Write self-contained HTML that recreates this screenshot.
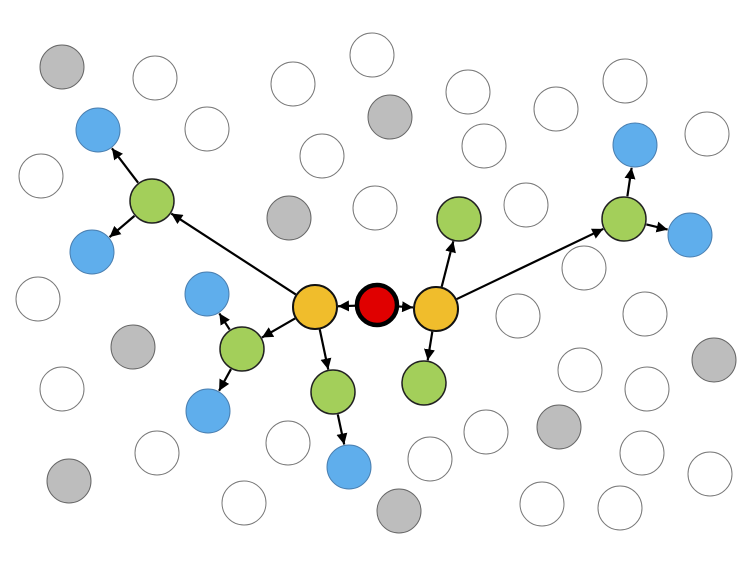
<!DOCTYPE html>
<html><head><meta charset="utf-8"><style>html,body{margin:0;padding:0;background:#fff}svg{display:block}</style></head>
<body>
<svg id="s" width="754" height="563" viewBox="0 0 754 563" xmlns="http://www.w3.org/2000/svg">
<defs><marker id="a" viewBox="0 0 10 10" refX="10" refY="5" markerWidth="5" markerHeight="5" orient="auto"><path d="M0,0L10,5L0,10z" fill="#000"/></marker></defs>
<g id="e" stroke="#000" stroke-width="2.2" marker-end="url(#a)"></g>
<g id="n"></g>
</svg>
<script>
var NS="http://www.w3.org/2000/svg",R=22;
function c(x,y,f,st,sw,r){var e=document.createElementNS(NS,"circle");e.setAttribute("cx",x);e.setAttribute("cy",y);e.setAttribute("r",r||R);e.setAttribute("fill",f);e.setAttribute("stroke",st);e.setAttribute("stroke-width",sw);document.getElementById("n").appendChild(e);}
[[155,78],[293,84],[372,55],[468,92],[556,109],[625,81],[707,134],[207,129],[322,156],[484,146],[41,176],[375,208],[526,205],[584,268],[38,299],[518,316],[645,314],[62,389],[580,370],[647,389],[157,453],[288,443],[486,432],[430,459],[642,453],[710,474],[244,503],[542,504],[620,508]].forEach(function(p){c(p[0],p[1],"#fff","#777",1)});
[[62,67],[390,117],[289,218],[133,347],[714,360],[559,427],[69,481],[399,511]].forEach(function(p){c(p[0],p[1],"#bdbdbd","#666",1)});
[[98,130],[92,252],[635,145],[690,235],[207,294],[208,411],[349,467]].forEach(function(p){c(p[0],p[1],"#5faeec","#4a7fb0",1)});
[[152,201],[459,219],[624,219],[242,349],[333,392],[424,383]].forEach(function(p){c(p[0],p[1],"#a3cf5a","#222",1.5)});
c(315,307,"#f0bd2c","#111",2);c(436,309,"#f0bd2c","#111",2);c(377,305,"#e00000","#000",4.5,20);
var E=[[377,305,315,307,21],[377,305,436,309,21],[315,307,152,201],[315,307,242,349],[315,307,333,392],[152,201,98,130],[152,201,92,252],[242,349,207,294],[242,349,208,411],[333,392,349,467],[436,309,459,219],[436,309,424,383],[436,309,624,219],[624,219,635,145],[624,219,690,235]];
E.forEach(function(q){var dx=q[2]-q[0],dy=q[3]-q[1],d=Math.sqrt(dx*dx+dy*dy),ux=dx/d,uy=dy/d,s=q[4]||R+1;
var l=document.createElementNS(NS,"line");l.setAttribute("x1",q[0]+ux*s);l.setAttribute("y1",q[1]+uy*s);l.setAttribute("x2",q[2]-ux*(R+1));l.setAttribute("y2",q[3]-uy*(R+1));document.getElementById("e").appendChild(l);});
</script>
</body></html>
